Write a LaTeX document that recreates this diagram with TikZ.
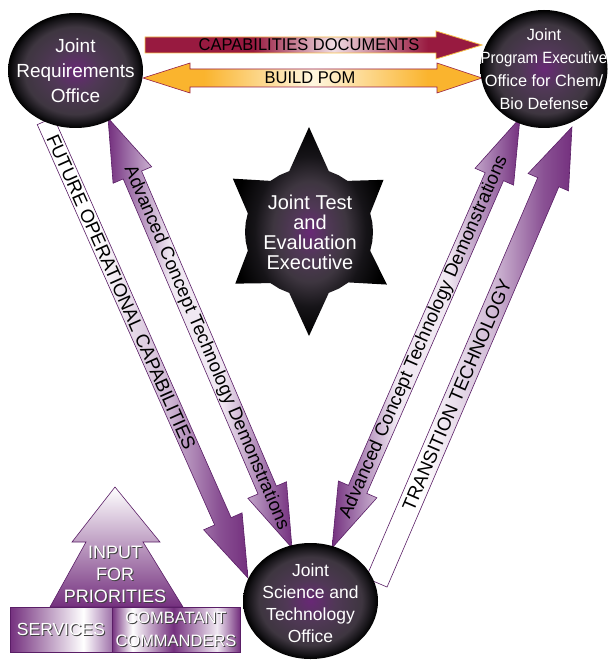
\documentclass[tikz,border=0pt]{standalone}
\usepackage{fontspec}
\setmainfont{Liberation Sans}
\usepackage{graphicx}
\usetikzlibrary{calc,shapes.geometric}

\definecolor{maroon}{RGB}{152,26,64}
\definecolor{pinklt}{RGB}{240,220,225}
\definecolor{capborder}{RGB}{246,192,72}
\definecolor{pomorange}{RGB}{250,180,46}
\definecolor{pomlight}{RGB}{255,247,224}
\definecolor{pomborder}{RGB}{150,30,70}
\definecolor{purp}{RGB}{116,48,126}
\definecolor{purpmid}{RGB}{160,115,170}
\definecolor{purpdark}{RGB}{90,30,102}
\definecolor{purplt}{RGB}{240,232,242}
\definecolor{orbcenter}{RGB}{104,40,118}
\definecolor{orbmid}{RGB}{80,56,86}
\definecolor{orbgray}{RGB}{62,54,64}
\definecolor{orbedge}{RGB}{22,20,24}

\pgfdeclareradialshading{orb}{\pgfpoint{0bp}{0bp}}{color(0bp)=(orbcenter); color(9bp)=(orbmid); color(19bp)=(orbgray); color(23bp)=(orbedge); color(25bp)=(black); color(50bp)=(black)}
\pgfdeclareradialshading{starshade}{\pgfpoint{0bp}{0bp}}{color(0bp)=(orbcenter); color(6bp)=(orbmid); color(12bp)=(orbgray); color(18bp)=(orbedge); color(25bp)=(black); color(50bp)=(black)}
\pgfdeclarehorizontalshading{capgrad}{100bp}{color(0bp)=(maroon); color(25bp)=(maroon); color(41bp)=(maroon); color(53bp)=(pinklt); color(67bp)=(maroon); color(100bp)=(maroon)}
\pgfdeclarehorizontalshading{pomgrad}{100bp}{color(0bp)=(pomorange); color(25bp)=(pomorange); color(34bp)=(pomorange); color(50bp)=(pomlight); color(67bp)=(pomorange); color(100bp)=(pomorange)}
\pgfdeclarehorizontalshading{actdgrad}{100bp}{color(0bp)=(purp); color(25bp)=(purp); color(31bp)=(purpmid); color(42bp)=(purplt); color(56bp)=(purplt); color(68bp)=(purpmid); color(75bp)=(purp); color(100bp)=(purp)}
\pgfdeclarehorizontalshading{fadegrad}{100bp}{color(0bp)=(white); color(25bp)=(white); color(38bp)=(white); color(56bp)=(purplt!60!purpmid); color(68bp)=(purpmid!50!purp); color(75bp)=(purp); color(100bp)=(purp)}
\pgfdeclarehorizontalshading{servgrad}{100bp}{color(0bp)=(purp); color(25bp)=(purp); color(61bp)=(white); color(75bp)=(purpmid); color(100bp)=(purpmid)}
\pgfdeclarehorizontalshading{combgrad}{100bp}{color(0bp)=(purp); color(25bp)=(purp); color(33bp)=(white); color(49bp)=(purp); color(66bp)=(purplt); color(75bp)=(purp); color(100bp)=(purp)}

\newcommand\getdir[2]{%
  \path let \p1=($(#2)-(#1)$) in
    \pgfextra{\pgfmathsetmacro\tmpang{atan2(\y1,\x1)}%
      \pgfmathsetmacro\tmplen{veclen(\x1,\y1)}%
      \global\let\arrang\tmpang\global\let\arrlen\tmplen};}

\tikzset{
  orb/.style={ellipse, shading=orb, draw=none, inner sep=0pt},
  orbtext/.style={text=white, align=center, inner sep=0pt},
  fatline/.style={draw=purpdark, line width=0.6pt, line join=miter},
  alabel/.style={inner sep=0pt, font=\fontsize{18.7}{20}\selectfont, text=black, transform shape},
  hlabel/.style={inner sep=0pt, font=\fontsize{17}{20}\selectfont, text=black},
  wtext/.style={text=white, align=center, inner sep=0pt},
  stext/.style={text=black!75, align=center, inner sep=0pt},
}

\begin{document}
\begin{tikzpicture}[x=1pt, y=-1pt]
\useasboundingbox (0,0) rectangle (613,660);

% ---------- horizontal arrows ----------
\shade[shading=capgrad, draw=capborder, line width=0.8pt]
  (145,37) -- (436,37) -- (436,31) -- (482,45) -- (436,59) -- (436,53) -- (145,53) -- cycle;
\node[hlabel] (capT) at (309,45) {\scalebox{0.97}[1]{CAPABILITIES DOCUMENTS}};

\shade[shading=pomgrad, draw=pomborder, line width=0.6pt]
  (143,78) -- (190,63) -- (190,69) -- (437,69) -- (437,63) -- (482,78) -- (437,93) -- (437,87) -- (190,87) -- (190,93) -- cycle;
\node[hlabel] (pomT) at (310,78) {\scalebox{0.97}[1]{BUILD POM}};

% ---------- diagonal arrows ----------
\coordinate (focS) at (45.5,121);   \coordinate (focE) at (248,578);
\coordinate (lacS) at (108,118);    \coordinate (lacE) at (292,548);
\coordinate (racS) at (332,548);    \coordinate (racE) at (520,118);
\coordinate (trS) at (376.5,582.5); \coordinate (trE) at (572,127);

% Future operational capabilities
\getdir{focS}{focE}
\begin{scope}[shift={(focS)}, rotate=\arrang]
  \shade[fatline, shading=fadegrad]
    (0,-9) -- ({\arrlen-62},-9) -- ({\arrlen-62},-21) -- (\arrlen,0) -- ({\arrlen-62},21) -- ({\arrlen-62},9) -- (0,9) -- cycle;
  \node[alabel] (focT) at (187,0) {FUTURE OPERATIONAL CAPABILITIES};
\end{scope}

% Left ACTD
\getdir{lacS}{lacE}
\begin{scope}[shift={(lacS)}, rotate=\arrang]
  \shade[fatline, shading=actdgrad]
    (0,0) -- (62,21) -- (62,10) -- ({\arrlen-63},10) -- ({\arrlen-63},21) -- (\arrlen,0) -- ({\arrlen-63},-21) -- ({\arrlen-63},-10) -- (62,-10) -- (62,-21) -- cycle;
  \node[alabel] (lacT) at (250,0) {Advanced Concept Technology Demonstrations};
\end{scope}

% Right ACTD
\getdir{racS}{racE}
\begin{scope}[shift={(racS)}, rotate=\arrang]
  \shade[fatline, shading=actdgrad]
    (0,0) -- (64,21) -- (64,10) -- ({\arrlen-64},10) -- ({\arrlen-64},21) -- (\arrlen,0) -- ({\arrlen-64},-21) -- ({\arrlen-64},-10) -- (64,-10) -- (64,-21) -- cycle;
  \node[alabel] (racT) at (230,0) {Advanced Concept Technology Demonstrations};
\end{scope}

% Transition technology
\getdir{trS}{trE}
\begin{scope}[shift={(trS)}, rotate=\arrang]
  \shade[fatline, shading=fadegrad]
    (0,-11.5) -- ({\arrlen-60},-11.5) -- ({\arrlen-60},-22) -- (\arrlen,0) -- ({\arrlen-60},22) -- ({\arrlen-60},11.5) -- (0,11.5) -- cycle;
  \node[alabel] (trT) at (204,0) {TRANSITION TECHNOLOGY};
\end{scope}

% ---------- offices ----------
\node[orb, minimum width=135pt, minimum height=115pt] (jro) at (75.5,70.5) {};
\node[orbtext, font=\fontsize{19}{25}\selectfont] (jroT) at (jro.center) {Joint\\Requirements\\Office};

\node[orb, minimum width=127pt, minimum height=118pt] (jpeo) at (544,69) {};
\node[orbtext, font=\fontsize{16.3}{23}\selectfont] (jpeoT) at (jpeo.center) {Joint\\\scalebox{0.92}[1]{Program Executive}\\Office for Chem/\\Bio Defense};

\node[orb, minimum width=135pt, minimum height=116pt] (jsto) at (310.5,601) {};
\node[orbtext, font=\fontsize{17.5}{22}\selectfont] (jstoT) at (310.5,603) {Joint\\Science and\\Technology\\Office};

% ---------- star ----------
\begin{scope}[shift={(309,232)}]
\shade[shading=starshade]
  (108:64pt) -- (90:105pt) -- (72:64pt) -- (62.5:64pt) -- (53:64pt) -- (35:91pt) -- (17:64pt) -- (8.5:64pt) -- (0:64pt) -- (-8.5:64pt) -- (-17:64pt) -- (-34:94pt) -- (-52:64pt) -- (-62:64pt) -- (-72:64pt) -- (-90:104pt) -- (-108:64pt) -- (-117.5:64pt) -- (-127:64pt) -- (-145:90pt) -- (-163:64pt) -- (-171.5:64pt) -- (180:64pt) -- (171.5:64pt) -- (163:64pt) -- (145:93pt) -- (127:64pt) -- (117.5:64pt) -- cycle;
\end{scope}
\node[orbtext, font=\fontsize{20}{20}\selectfont] (jteT) at (310,232) {Joint Test\\and\\Evaluation\\Executive};

% ---------- input for priorities ----------
\shade[top color=white, bottom color=purp, draw=purpdark, line width=0.6pt]
  (115,487) -- (160,542) -- (143,542) -- (183,607) -- (50,607) -- (86,542) -- (72,542) -- cycle;
\node[stext, font=\fontsize{18}{22}\selectfont] (inSh) at (116,575) {INPUT\\FOR\\PRIORITIES};
\node[wtext, font=\fontsize{18}{22}\selectfont] (inT) at (115,574) {INPUT\\FOR\\PRIORITIES};

\shade[shading=servgrad, draw=purpdark, line width=0.4pt] (10,607) rectangle (112,652);
\shade[shading=combgrad, draw=purpdark, line width=0.4pt] (112,607) rectangle (240,652);
\node[stext, font=\fontsize{17.5}{22}\selectfont] (servSh) at (62,630) {SERVICES};
\node[wtext, font=\fontsize{17.5}{22}\selectfont] (servT) at (61,629) {SERVICES};
\node[stext, font=\fontsize{16.5}{23}\selectfont] (combSh) at (177,630) {COMBATANT\\COMMANDERS};
\node[wtext, font=\fontsize{16.5}{23}\selectfont] (combT) at (176,629) {COMBATANT\\COMMANDERS};
\end{tikzpicture}
\end{document}
